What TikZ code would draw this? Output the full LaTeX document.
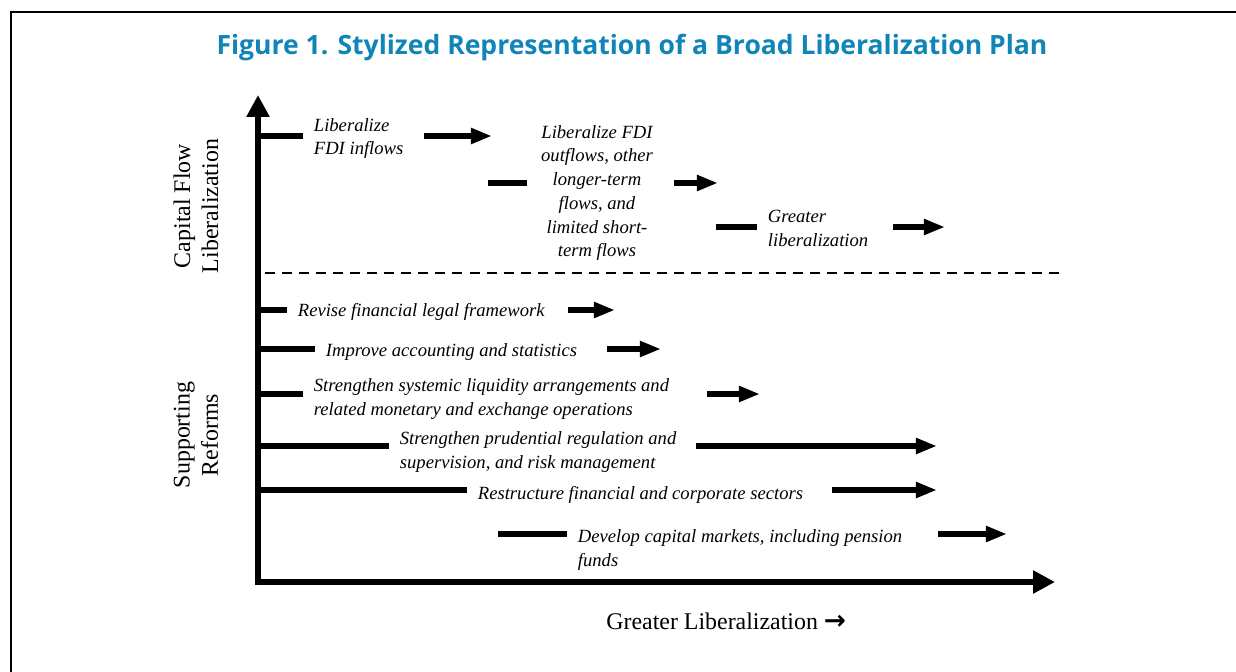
\documentclass[tikz,border=0pt]{standalone}
\usepackage{fontspec}
\setmainfont{Liberation Serif}
\newfontfamily\titlefont{Open Sans}
\newfontfamily\arrowfont{DejaVu Sans}
\usetikzlibrary{arrows.meta}
\definecolor{titleblue}{RGB}{17,133,183}

\begin{document}
\begin{tikzpicture}[x=0.02cm, y=-0.02cm]
	\tikzstyle{Axis}	= [line width=3.4pt, line join=miter, {Triangle[length=12.5pt, width=12.5pt]}-{Triangle[length=12.5pt, width=12.5pt]}]
	\tikzstyle{Bar}		= [line width=3.3pt]
	\tikzstyle{Step}	= [Bar, -{Triangle[length=12pt, width=8.5pt]}]
	\tikzstyle{Item}	= [anchor=west, inner xsep=6pt, inner ysep=0pt, font=\fontsize{10.6}{13.5}\selectfont\itshape]
	\tikzstyle{Side}	= [rotate=90, align=center, inner sep=0pt, font=\fontsize{13.6}{16}\selectfont]
	\tikzstyle{Split}	= [line width=1.1pt, dash pattern=on 5.7pt off 4pt]

	\useasboundingbox (0,0) rectangle (1236,672);
	\draw[line width=1.2pt] (1236,12) -- (11,12) -- (11,672);

	\node (title) at (632,48) [font=\titlefont\bfseries\fontsize{15.1}{18}\selectfont, text=titleblue] {Figure 1. Stylized Representation of a Broad Liberalization Plan};

	% axes and labels
	\coordinate (ytop) at (258,95);
	\coordinate (xend) at (1055,582);
	\draw[Axis] (ytop) |- (xend);

	\node (cfl) at (196,206) [Side] {Capital Flow\\Liberalization};
	\node (sup) at (196,435) [Side] {Supporting\\Reforms};
	\node (gl) at (606,621) [anchor=west, inner sep=0pt, font=\fontsize{13.6}{16}\selectfont] {Greater Liberalization {\arrowfont\bfseries\fontsize{15}{16}\selectfont →}};

	\coordinate (d1) at (265,273);
	\coordinate (d2) at (1060,273);
	\draw[Split] (d1) -- (d2);

	% capital flow steps
	\coordinate (b1) at (258,136);
	\node (fdi) at (303,138.5) [Item, align=left] {Liberalize\\FDI inflows};
	\draw[Bar] (b1) -- (b1 -| fdi.west);
	\coordinate (s1) at (424,136);
	\coordinate (e1) at (492,136);
	\draw[Step] (s1) -- (e1);

	\coordinate (b2) at (488,183);
	\node (out) at (597,193) [Item, anchor=center, align=center] {Liberalize FDI\\outflows, other\\longer-term\\flows, and\\limited short-\\term flows};
	\draw[Bar, shorten >=2pt] (b2) -- (b2 -| out.west);
	\coordinate (s2) at (674,183);
	\coordinate (e2) at (718,183);
	\draw[Step] (s2) -- (e2);

	\coordinate (b3) at (716,227);
	\node (grl) at (757,228.5) [Item, align=left] {Greater\\liberalization};
	\draw[Bar] (b3) -- (b3 -| grl.west);
	\coordinate (s3) at (893,227);
	\coordinate (e3) at (945,227);
	\draw[Step] (s3) -- (e3);

	% supporting reforms
	\coordinate (ba) at (258,310);
	\node (law) at (287,312) [Item] {Revise financial legal framework};
	\draw[Bar] (ba) -- (ba -| law.west);
	\coordinate (sa) at (568,310);
	\coordinate (ea) at (615,310);
	\draw[Step] (sa) -- (ea);

	\coordinate (bb) at (258,349);
	\node (acc) at (315,352) [Item] {Improve accounting and statistics};
	\draw[Bar] (bb) -- (bb -| acc.west);
	\coordinate (sb) at (607,349);
	\coordinate (eb) at (661,349);
	\draw[Step] (sb) -- (eb);

	\coordinate (bc) at (258,394);
	\node (liq) at (303,399) [Item, align=left] {Strengthen systemic liquidity arrangements and\\related monetary and exchange operations};
	\draw[Bar] (bc) -- (bc -| liq.west);
	\coordinate (sc) at (707,394);
	\coordinate (ec) at (760,394);
	\draw[Step] (sc) -- (ec);

	\coordinate (bd) at (258,446);
	\node (pru) at (389,452) [Item, align=left] {Strengthen prudential regulation and\\supervision, and risk management};
	\draw[Bar] (bd) -- (bd -| pru.west);
	\coordinate (sd) at (696,446);
	\coordinate (ed) at (937,446);
	\draw[Step] (sd) -- (ed);

	\coordinate (be) at (258,490);
	\node (cor) at (467,495) [Item] {Restructure financial and corporate sectors};
	\draw[Bar] (be) -- (be -| cor.west);
	\coordinate (se) at (832,490);
	\coordinate (ee) at (937,490);
	\draw[Step] (se) -- (ee);

	\coordinate (bf) at (498,534);
	\node (cap) at (567,550) [Item, align=left] {Develop capital markets, including pension\\funds};
	\draw[Bar] (bf) -- (bf -| cap.west);
	\coordinate (sf) at (938,534);
	\coordinate (ef) at (1007,534);
	\draw[Step] (sf) -- (ef);
\end{tikzpicture}
\end{document}
